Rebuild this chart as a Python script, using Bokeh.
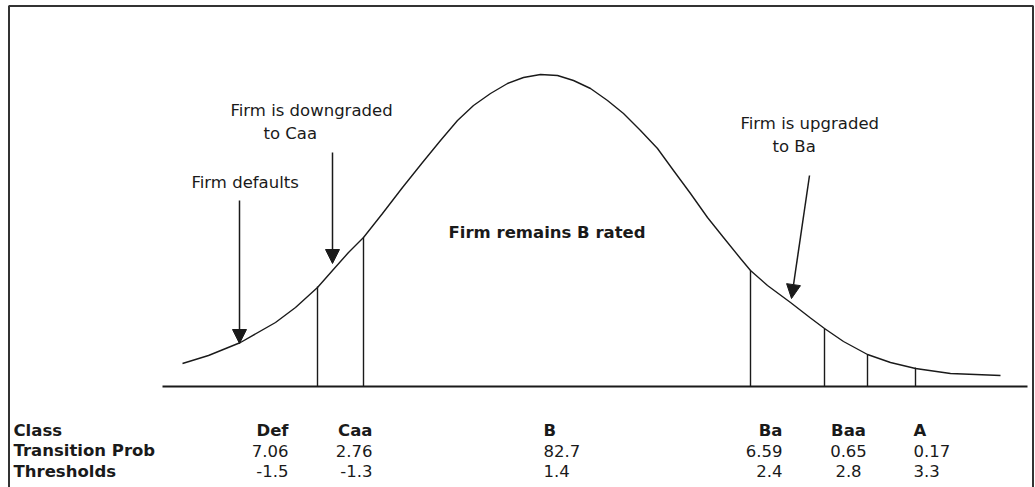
from bokeh.plotting import figure
from bokeh.models import Range1d, Label, Arrow, NormalHead
from bokeh.embed import file_html
from bokeh.resources import INLINE

# ---- data ----
# schematic density curve (position, height above baseline)
curve_x = [182, 208, 240, 275, 295, 317, 332, 348, 363, 382, 402, 422, 440, 457,
           473, 490, 507, 523, 540, 557, 573, 590, 607, 623, 640, 657, 673, 690,
           707, 723, 740, 750, 767, 790, 810, 824, 843, 867, 890, 915, 950, 1000]
curve_h = [23, 31, 44, 64, 79, 99, 116, 134, 149, 173, 199, 224, 246, 266,
           281, 293, 303, 309, 312, 311, 306, 298, 286, 273, 256, 238, 216, 193,
           169, 149, 128, 116, 101, 84, 68.5, 58, 45, 32, 24, 18, 13, 11]

# threshold cut lines (schematic position, height where they meet the curve)
cut_x = [317, 363, 750, 824, 867, 915]
cut_h = [100, 149, 116, 58, 32, 19]

classes = ["Def", "Caa", "B", "Ba", "Baa", "A"]
trans_prob = [7.06, 2.76, 82.7, 6.59, 0.65, 0.17]
thresholds = [-1.5, -1.3, 1.4, 2.4, 2.8, 3.3]
row_labels = ["Class", "Transition Prob", "Thresholds"]

FONT = "DejaVu Sans"
FS = "16.5px"
INK = "#1a1a1a"

W, H = 1035, 487
p = figure(width=W, height=H, x_range=Range1d(0, W), y_range=Range1d(386 - H, 386),
           toolbar_location=None, output_backend="svg", x_axis_type=None, y_axis_type=None,
           min_border=0)
p.grid.visible = False
p.outline_line_color = None
p.background_fill_color = "white"

# outer frame (left, top, right)
p.line([8.5, 8.5, 1032.5, 1032.5], [386 - H, 380.5, 380.5, 386 - H],
       line_color="#333333", line_width=2)

# baseline
p.line([162, 1027], [0, 0], line_color=INK, line_width=2)

# curve
p.line(curve_x, curve_h, line_color=INK, line_width=1.4)

# cut lines
p.segment(x0=cut_x, y0=[0] * len(cut_x), x1=cut_x, y1=cut_h, line_color=INK, line_width=1.4)

# arrows
arrows = [((239, 186), (239, 43)), ((332, 234), (332, 123)), ((809, 211), (791, 88))]
for (xs, ys), (xe, ye) in arrows:
    p.add_layout(Arrow(end=NormalHead(size=14, fill_color=INK, line_color=INK, line_width=1),
                       x_start=xs, y_start=ys, x_end=xe, y_end=ye,
                       line_color=INK, line_width=1.5))

def lab(x, y, t, bold=False, align="left"):
    p.add_layout(Label(x=x, y=y, text=t, text_font=FONT, text_font_size=FS,
                       text_font_style="bold" if bold else "normal", text_color=INK,
                       text_align=align, text_baseline="alphabetic"))

lab(230, 386 - 110, "Firm is downgraded")
lab(263, 386 - 133, "to Caa")
lab(191, 386 - 182, "Firm defaults")
lab(740, 386 - 122.5, "Firm is upgraded")
lab(772, 386 - 146, "to Ba")
lab(448, 386 - 232, "Firm remains B rated", bold=True)

# table
row_y = [386 - 430, 386 - 450, 386 - 470.5]
for yy, t in zip(row_y, row_labels):
    lab(13, yy, t, bold=True)

col_x = [288, 372, 543, 782, 848, 913]
col_align = ["right", "right", "left", "right", "center", "left"]
rows = [classes, [str(v) for v in trans_prob], [str(v) for v in thresholds]]
for r, (yy, vals) in enumerate(zip(row_y, rows)):
    for cx, al, t in zip(col_x, col_align, vals):
        lab(cx, yy, t, bold=(r == 0), align=al)

open("out.html", "w").write(file_html(p, INLINE))
